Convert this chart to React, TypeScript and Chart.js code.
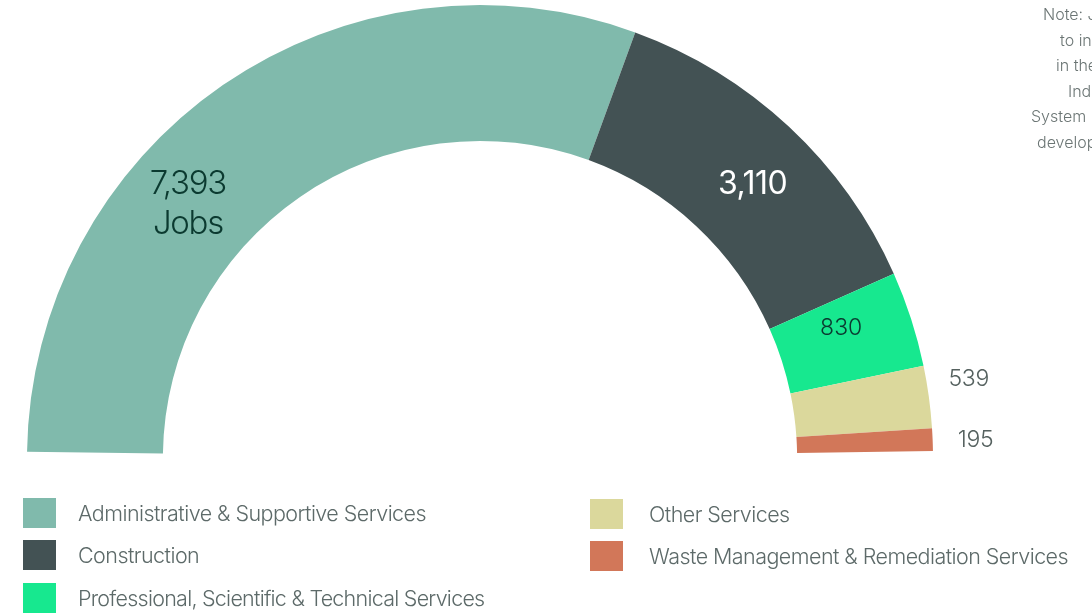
import React, { useEffect, useRef } from "react";
import { Chart, registerables } from "chart.js";

Chart.register(...registerables);

const categories = [
  "Administrative & Supportive Services",
  "Construction",
  "Professional, Scientific & Technical Services",
  "Other Services",
  "Waste Management & Remediation Services",
];
const jobs = [7393, 3110, 830, 539, 195];
const colors = ["#80BAAC", "#435254", "#17E88F", "#DBD89C", "#D27759"];
const noteLines = ["Note: Jobs", "to industries", "in the North", "Industry", "System (NAICS)", "developments"];

const W = 1092;
const H = 615;
const ROT = -89.2;
const CIRC = 178.3;
const CUT = 0.7;
const R = 453;
const CX = 480;
const CY = 458;

function computePadding() {
  const s = ((ROT - 90) * Math.PI) / 180;
  const e = s + (CIRC * Math.PI) / 180;
  const sx = Math.cos(s), sy = Math.sin(s), ex = Math.cos(e), ey = Math.sin(e);
  const maxX = Math.max(sx, sx * CUT, ex, ex * CUT);
  const minX = Math.min(sx, sx * CUT, ex, ex * CUT);
  const maxY = Math.max(sy, sy * CUT, ey, ey * CUT);
  const minY = -1;
  const offX = -(maxX + minX) / 2;
  const offY = -(maxY + minY) / 2;
  const areaCx = CX - offX * R;
  const areaCy = CY - offY * R;
  return { left: 0, top: 0, right: W - 2 * areaCx, bottom: H - 2 * areaCy };
}

const labelPlugin = {
  id: "valueLabels",
  afterDatasetsDraw(chart: any) {
    const ctx = chart.ctx;
    const meta = chart.getDatasetMeta(0);
    const specs = [
      { frac: 0.371, r: 389, dy: 3, color: "#0B3A30", size: 33, weight: 300, ls: "-1.3px", lines: (v: string) => [v, "Jobs"], lh: 40 },
      { frac: 0.535, r: 388, dy: 3, color: "#FFFFFF", size: 32, weight: 400, ls: "-0.5px", lines: (v: string) => [v], lh: 0 },
      { frac: 0.34, r: 384, dy: 0, color: "#0B3A30", size: 23, weight: 300, ls: "0px", lines: (v: string) => [v], lh: 0 },
      { frac: 0.33, r: 495, dy: 0, color: "#55615F", size: 23, weight: 300, ls: "-0.3px", lines: (v: string) => [v], lh: 0 },
      { frac: 0.53, r: 496, dy: 2, color: "#55615F", size: 23, weight: 300, ls: "-0.3px", lines: (v: string) => [v], lh: 0 },
    ];
    meta.data.forEach((arc: any, i: number) => {
      const p = arc.getProps(["x", "y", "startAngle", "endAngle"], true);
      const sp = specs[i];
      const a = p.startAngle + sp.frac * (p.endAngle - p.startAngle);
      const x = p.x + Math.cos(a) * sp.r;
      const y = p.y + Math.sin(a) * sp.r + sp.dy;
      const txt = jobs[i].toLocaleString("en-US");
      const lines = sp.lines(txt);
      ctx.save();
      ctx.fillStyle = sp.color;
      ctx.font = `${sp.weight} ${sp.size}px Inter, "Noto Sans", sans-serif`;
      (ctx as any).letterSpacing = sp.ls;
      ctx.textAlign = "center";
      ctx.textBaseline = "middle";
      const y0 = y - ((lines.length - 1) * sp.lh) / 2;
      lines.forEach((l: string, k: number) => ctx.fillText(l, x, y0 + k * sp.lh));
      ctx.restore();
    });
  },
};

export default function App() {
  const ref = useRef<HTMLCanvasElement>(null);
  useEffect(() => {
    document.body.style.margin = "0";
    document.body.style.overflow = "hidden";
    const chart = new Chart(ref.current!, {
      type: "doughnut",
      data: {
        labels: categories,
        datasets: [
          {
            data: jobs,
            backgroundColor: colors,
            borderWidth: 0,
            radius: R,
          } as any,
        ],
      },
      options: {
        responsive: false,
        animation: false,
        devicePixelRatio: 1,
        rotation: ROT,
        circumference: CIRC,
        cutout: `${CUT * 100}%`,
        layout: { padding: computePadding() },
        plugins: { legend: { display: false }, tooltip: { enabled: false } },
      },
      plugins: [labelPlugin],
    });
    return () => chart.destroy();
  }, []);

  const legendPos = [
    { x: 23, y: 498, gap: 22, ls: "-0.55px" },
    { x: 23, y: 540, gap: 22, ls: "-0.55px" },
    { x: 23, y: 583, gap: 22, ls: "-0.75px" },
    { x: 590, y: 499, gap: 26, ls: "-0.55px" },
    { x: 590, y: 541, gap: 26, ls: "-0.55px" },
  ];
  const noteLefts = [1043, 1060, 1056, 1068, 1031, 1037];

  return (
    <div style={{ position: "fixed", left: 0, top: 0, width: W, height: H, overflow: "hidden", background: "#fff", fontFamily: "Inter, 'Noto Sans', sans-serif" }}>
      <canvas ref={ref} width={W} height={H} style={{ position: "absolute", left: 0, top: 0, width: W, height: H }} />
      {categories.map((c, i) => (
        <div key={c} style={{ position: "absolute", left: legendPos[i].x, top: legendPos[i].y, height: 30, display: "flex", alignItems: "center", whiteSpace: "nowrap" }}>
          <div style={{ width: 33, height: 30, background: colors[i] }} />
          <div style={{ marginLeft: legendPos[i].gap, fontSize: 21.5, letterSpacing: legendPos[i].ls, fontWeight: 300, color: "#5D6A69" }}>{c}</div>
        </div>
      ))}
      {noteLines.map((l, i) => (
        <div key={i} style={{ position: "absolute", left: noteLefts[i], top: 5 + i * 25.5, fontSize: 16, lineHeight: "18px", fontWeight: 300, color: "#6B7574", whiteSpace: "nowrap" }}>{l}</div>
      ))}
    </div>
  );
}
